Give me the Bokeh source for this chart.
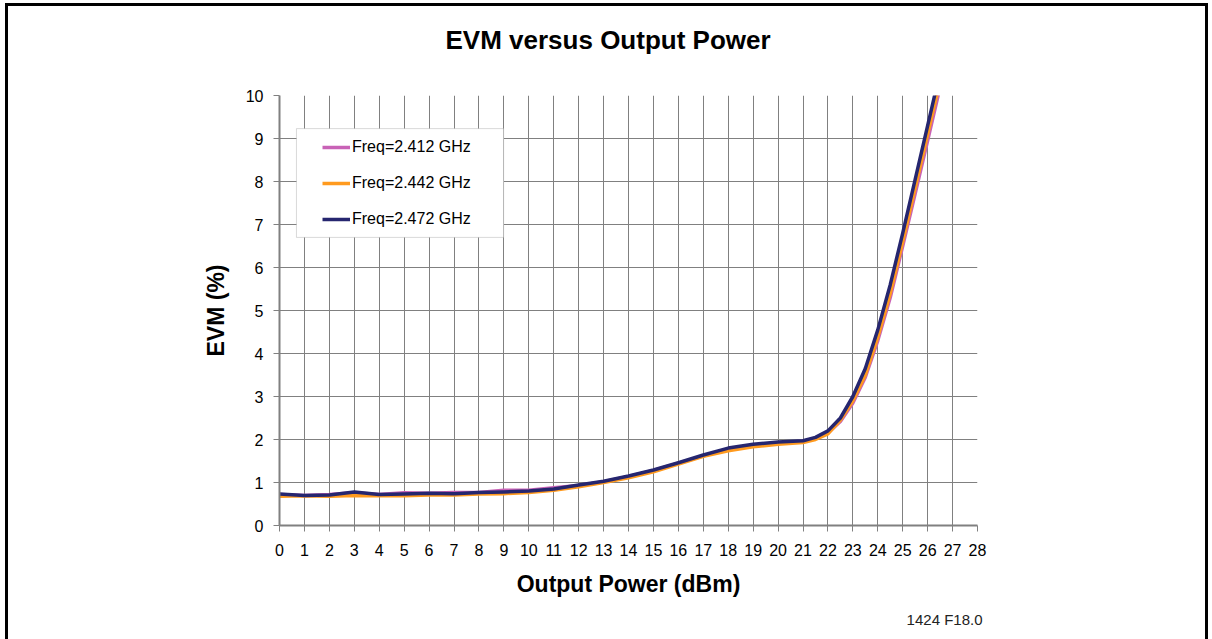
from bokeh.plotting import figure
from bokeh.models import (BoxAnnotation, Legend, LegendItem, FixedTicker, Range1d, Title)
from bokeh.embed import file_html
from bokeh.resources import INLINE

# ---- data ----
power_dbm = [0, 1, 2, 3, 4, 5, 6, 7, 8, 9, 10, 11, 12, 13, 14, 15, 16, 17, 18, 19, 20, 21,
             21.5, 22, 22.5, 23, 23.5, 24, 24.5, 25, 25.5, 26, 26.5, 27]

evm_2412 = [0.72, 0.70, 0.72, 0.76, 0.72, 0.76, 0.75, 0.77, 0.77, 0.82, 0.82, 0.88, 0.93, 1.02,
            1.14, 1.28, 1.45, 1.62, 1.77, 1.87, 1.92, 1.96,
            2.03, 2.15, 2.42, 2.85, 3.45, 4.30, 5.30, 6.50, 7.72, 8.95, 10.20, 11.45]
evm_2442 = [0.68, 0.69, 0.68, 0.70, 0.69, 0.69, 0.71, 0.71, 0.73, 0.74, 0.77, 0.82, 0.90, 1.00,
            1.11, 1.25, 1.43, 1.61, 1.74, 1.83, 1.89, 1.93,
            2.00, 2.13, 2.45, 2.90, 3.50, 4.38, 5.40, 6.60, 7.85, 9.10, 10.35, 11.60]
evm_2472 = [0.73, 0.70, 0.71, 0.78, 0.72, 0.73, 0.75, 0.74, 0.77, 0.78, 0.80, 0.85, 0.94, 1.03,
            1.15, 1.29, 1.46, 1.64, 1.80, 1.89, 1.94, 1.97,
            2.05, 2.20, 2.50, 3.00, 3.65, 4.55, 5.60, 6.80, 8.05, 9.30, 10.55, 11.80]

series_labels = ["Freq=2.412 GHz", "Freq=2.442 GHz", "Freq=2.472 GHz"]
series_colors = ["#c862b6", "#ff9a1e", "#26266f"]

x_ticks = list(range(0, 29))
y_ticks = list(range(0, 11))

FONT = "Liberation Sans"
GRID = "#808080"

p = figure(width=1212, height=639, frame_width=698, frame_height=430, title=None,
           x_range=Range1d(0, 28), y_range=Range1d(0, 10),
           output_backend="svg", toolbar_location=None,
           min_border_left=279, min_border_right=235, min_border_top=95, min_border_bottom=114)
p.outline_line_color = None
p.background_fill_color = "white"
p.border_fill_color = None
# outer frame of the figure (drawn behind the transparent border area)
p.styles = {
    "background-color": "white",
    "background-image": "linear-gradient(#000,#000), linear-gradient(#000,#000), linear-gradient(#000,#000)",
    "background-size": "3px 100%, 1203px 3px, 3px 100%",
    "background-position": "5px 3px, 5px 3px, 1205px 3px",
    "background-repeat": "no-repeat",
}

# spacer panel next to the frame (above[0]), then the title further out
spacer = Title(text=" ", text_font=FONT, text_font_size="1px", text_color="white", standoff=38)
p.add_layout(spacer, "above")
main_title = Title(text="EVM versus Output Power", text_font=FONT, text_font_style="bold",
                   text_font_size="26px", align="left", offset=166, text_color="black",
                   standoff=0)
p.add_layout(main_title, "above")

# axes
for ax in (p.xaxis[0], p.yaxis[0]):
    ax.axis_line_color = GRID
    ax.axis_line_width = 2
    ax.major_tick_line_color = GRID
    ax.major_tick_in = 0
    ax.major_tick_out = 6
    ax.minor_tick_line_color = None
    ax.major_label_text_font = FONT
    ax.major_label_text_font_size = "16px"
    ax.major_label_text_color = "black"
    ax.axis_label_text_font = FONT
    ax.axis_label_text_font_style = "bold"
    ax.axis_label_text_font_size = "23px"
    ax.axis_label_text_color = "black"

p.xaxis.ticker = FixedTicker(ticks=x_ticks)
p.yaxis.ticker = FixedTicker(ticks=y_ticks)
p.xaxis.axis_label = "Output Power (dBm)"
p.yaxis.axis_label = "EVM (%)"
p.xaxis.major_label_standoff = 12
p.yaxis.major_label_standoff = 10
p.xaxis.axis_label_standoff = 12
p.yaxis.axis_label_standoff = 14

p.xgrid.ticker = FixedTicker(ticks=x_ticks)
p.ygrid.ticker = FixedTicker(ticks=y_ticks)
for g in (p.xgrid[0], p.ygrid[0]):
    g.grid_line_color = GRID
    g.grid_line_width = 1

# lines (pink, orange, navy on top)
renderers = []
for vals, col in zip([evm_2412, evm_2442, evm_2472], series_colors):
    r = p.line(power_dbm, vals, line_color=col, line_width=3.5, line_join="round")
    renderers.append(r)

# legend box
p.add_layout(BoxAnnotation(left=0.68, right=8.99, top=9.23, bottom=6.70,
                           fill_color="white", fill_alpha=1.0,
                           line_color="#808080", line_width=1))

legend = Legend(items=[LegendItem(label=lab, renderers=[r]) for lab, r in zip(series_labels, renderers)],
                location=(34, 287), padding=9, spacing=16, margin=0,
                glyph_width=28, glyph_height=20, label_height=20, label_standoff=2,
                label_text_font=FONT, label_text_font_size="16px", label_text_color="black",
                background_fill_alpha=0, border_line_alpha=0)
p.add_layout(legend)

# figure note below the chart
note = Title(text="1424 F18.0", align="right", offset=-5, text_font=FONT, text_font_size="15px",
             text_font_style="normal", text_color="#222222", standoff=18)
p.add_layout(note, "below")

open("out.html", "w").write(file_html(p, INLINE))
